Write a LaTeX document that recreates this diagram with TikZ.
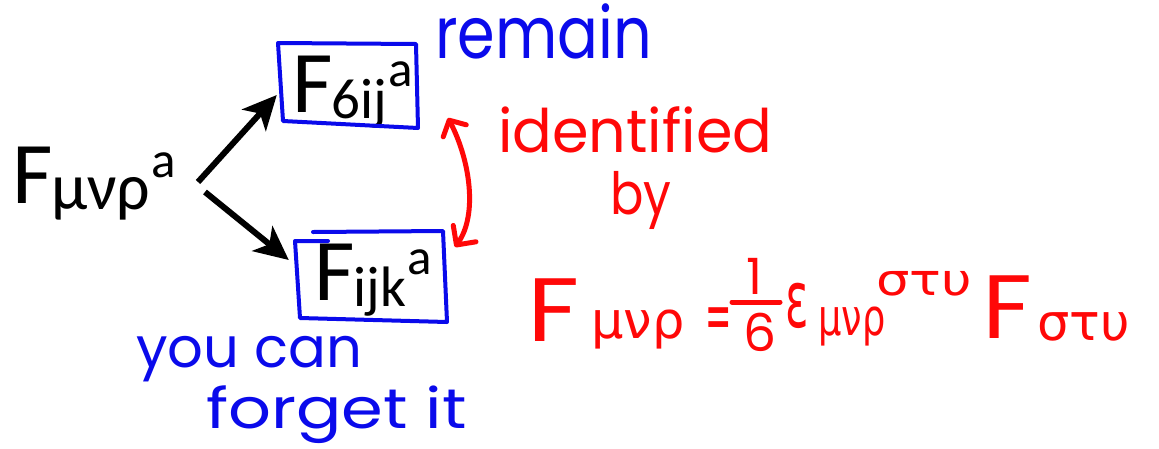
\documentclass[tikz,border=0pt]{standalone}
\usepackage{fontspec}
\usepackage{graphicx}
\usetikzlibrary{arrows.meta}

\newfontfamily\typedfont{Carlito}
\newfontfamily\handfont{Poppins}
\newfontfamily\handgreek{DejaVu Sans}

\definecolor{inkblue}{RGB}{10,10,235}
\definecolor{inkred}{RGB}{255,8,8}

\newcommand\fsz[1]{\fontsize{#1}{#1}\selectfont}
% typed tensor symbol: F, lowered indices (at the given size), then raised colour index
\newcommand\tensorsym[3][57]{\typedfont\fsz{88}F\kern-1pt\raisebox{-6pt}{\fsz{#1}#2}\kern1pt\raisebox{26pt}{\fsz{51}#3}}

\tikzset{
  typed/.style={inner sep=0pt, anchor=base west, text=black},
  bluehand/.style={inner sep=0pt, anchor=base west, text=inkblue, font=\handfont},
  redhand/.style={inner sep=0pt, anchor=base west, text=inkred, font=\handfont},
  redgreek/.style={inner sep=0pt, anchor=base west, text=inkred, font=\handgreek},
  frame/.style={draw=none, rectangle, inner sep=0pt},
  inkbox/.style={draw=inkblue, line width=4pt, line join=round, line cap=round},
  fork/.style={draw=black, line width=6pt, -{Stealth[length=34pt, width=32pt, inset=9pt]}},
  ident/.style={draw=inkred, line width=5pt, line cap=round,
    {Straight Barb[length=12pt, width=26pt, round]}-{Straight Barb[length=14pt, width=28pt, round]}},
}

\begin{document}
\begin{tikzpicture}[x=1pt, y=-1pt]
\useasboundingbox (0,0) rectangle (1159,448);

% typed symbols
\node[typed] (Fmain) at (12,203) {\tensorsym[66]{μνρ}{a}};
\node[typed] (F6ij)  at (292,112) {\tensorsym{6ij}{a}};
\node[typed] (Fijk)  at (314,300) {\tensorsym{ijk}{a}};

% frames around the two components
\node[frame, minimum width=140pt, minimum height=84pt] (box1) at (348,85) {};
\node[frame, minimum width=150pt, minimum height=88pt] (box2) at (371,277) {};
\draw[inkbox] (278,43) -- (416,44) -- (418,128) -- (283,121) -- cycle;
\draw[inkbox] (313,232) -- (443,231) -- (447,322) -- (300,318) -- (295,241) -- (328,241);

% split into the two pieces
\coordinate (forkup) at (198,182);
\coordinate (forkdown) at (205,192);
\draw[fork] (forkup) -- ([xshift=-1pt, yshift=-10pt]box1.west);
\draw[fork] (forkdown) -- ([xshift=-7pt, yshift=17pt]box2.west);

% identification arrow
\coordinate (idtop) at (448,118);
\coordinate (idbot) at (455,247);
\draw[ident] (idtop) .. controls (470,160) and (478,215) .. (idbot);

% handwritten notes
\node[bluehand] (remain) at (435,58) {\scalebox{0.84}[1]{\fsz{72}remain}};
\node[redhand] (identified) at (498,152) {\scalebox{0.98}[1]{\fsz{60}identified}};
\node[redhand] (by) at (610,214) {\scalebox{0.95}[1.12]{\fsz{52}by}};
\node[bluehand] (youcan) at (136,367) {\fsz{56}you can};
\node[bluehand] (forget) at (206,428) {\scalebox{1.2}[1]{\fsz{56}forget it}};

% the duality relation
\node[redhand] (eqF) at (527,341) {\scalebox{1.15}[1]{\fsz{90}F}};
\node[redgreek] (eqFsub) at (591,338) {\fsz{51}μνρ};
\node[redgreek] (eqeq) at (705,339) {\scalebox{0.45}[1]{\fsz{70}=}};
\node[redhand, anchor=center] (num) at (754,276) {\fsz{50}1};
\node[redhand, anchor=center] (den) at (760,332) {\fsz{52}6};
\draw[inkred, line width=5pt, line cap=round] (732,302) -- (780,302);
\node[redgreek] (eps) at (785,327) {\scalebox{0.85}[1.55]{\fsz{51}ε}};
\node[redgreek] (epssub) at (818,335) {\scalebox{0.72}[1]{\fsz{51}μνρ}};
\node[redgreek] (epssup) at (876,295) {\scalebox{1.2}[1]{\fsz{44}στυ}};
\node[redhand] (eqF2) at (982,338) {\scalebox{1.1}[1]{\fsz{90}F}};
\node[redgreek] (eqF2sub) at (1037,340) {\fsz{51}στυ};
\end{tikzpicture}
\end{document}
